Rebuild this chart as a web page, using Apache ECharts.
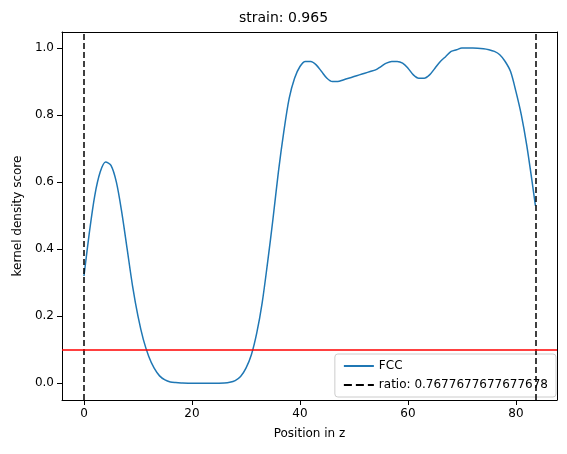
<!DOCTYPE html>
<html><head><meta charset="utf-8">
<script src="https://cdn.jsdelivr.net/npm/echarts@6/dist/echarts.min.js"></script>
<style>html,body{margin:0;padding:0;background:#fff}#c{width:567px;height:454px}</style>
</head><body><div id="c"></div>
<script>
const xs=[0,1,2,3,4,5,6,7,8,9,10,11,12,13,14,15,16,17,18,20,22,24,26,27,28,29,30,31,32,33,34,35,36,37,38,39,40,41,42,43,44,45,46,47,48,49,50,51,52,53,54,55,56,57,58,59,60,61,62,63,64,65,66,67,68,69,70,72,74,75,76,77,78,79,80,81,82,83,83.6];
const ys=[.32,.45,.56,.63,.66,.65,.60,.51,.40,.29,.20,.13,.08,.045,.022,.01,.004,.002,.001,0,0,0,.001,.003,.008,.02,.045,.085,.15,.24,.36,.49,.63,.75,.85,.91,.945,.96,.96,.95,.93,.91,.90,.90,.905,.91,.915,.92,.925,.93,.935,.945,.955,.96,.96,.955,.94,.92,.91,.91,.92,.94,.96,.975,.99,.995,1.0,1.0,.998,.995,.99,.98,.96,.93,.87,.80,.71,.60,.53];
const vlines=[0,83.6];
const threshold=0.1;
const xTicks=[0,20,40,60,80];
const yTicks=[0,0.2,0.4,0.6,0.8,1.0];
const ratioLabel='ratio: 0.7677677677677678';
const font='DejaVu Sans';
const ch=echarts.init(document.getElementById('c'));
const box={show:true,onZero:false,lineStyle:{color:'#000',width:1}};
ch.setOption({
 animation:false,
 textStyle:{fontFamily:font},
 title:{text:'strain: 0.965',left:'center',top:6,textStyle:{fontFamily:font,fontSize:14,fontWeight:'normal',color:'#000'}},
 grid:{left:62,right:10,top:32,bottom:54},
 xAxis:[{type:'value',min:-4.07,max:87.6,name:'Position in z',nameLocation:'middle',nameGap:28,nameTextStyle:{fontSize:12,color:'#000'},
  splitLine:{show:false},axisLine:box,
  axisTick:{show:true,customValues:xTicks,lineStyle:{color:'#000'}},
  axisLabel:{customValues:xTicks,color:'#000',fontSize:12,formatter:v=>String(v)}},
  {type:'value',position:'top',min:-4.07,max:87.6,axisLine:box,axisTick:{show:false},axisLabel:{show:false},splitLine:{show:false}}],
 yAxis:[{type:'value',min:-0.05,max:1.048,name:'kernel density score',nameLocation:'middle',nameGap:38,nameTextStyle:{fontSize:12,color:'#000'},
  splitLine:{show:false},axisLine:box,
  axisTick:{show:true,customValues:yTicks,lineStyle:{color:'#000'}},
  axisLabel:{customValues:yTicks,color:'#000',fontSize:12,formatter:v=>v.toFixed(1)}},
  {type:'value',position:'right',min:-0.05,max:1.048,axisLine:box,axisTick:{show:false},axisLabel:{show:false},splitLine:{show:false}}],
 legend:{orient:'vertical',right:11,bottom:57,backgroundColor:'#fff',borderColor:'#ccc',borderWidth:1,borderRadius:3,padding:[6,8],itemGap:7,itemWidth:30,itemHeight:10,
  itemStyle:{opacity:0},
  textStyle:{fontSize:12,color:'#000',fontFamily:font},data:['FCC',ratioLabel]},
 series:[
  {name:'FCC',type:'line',data:xs.map((x,i)=>[x,ys[i]]),smooth:0.3,symbol:'none',lineStyle:{color:'#1f77b4',width:1.5},itemStyle:{color:'#1f77b4'},z:3},
  {name:ratioLabel,type:'line',data:[],symbol:'none',lineStyle:{color:'#000',type:'dashed',width:1.5},itemStyle:{color:'#000'},
   markLine:{silent:true,symbol:'none',label:{show:false},lineStyle:{color:'#000',type:[6,3],width:1.5},data:vlines.map(v=>({xAxis:v}))}},
  {name:'thr',type:'line',data:[],symbol:'none',
   markLine:{silent:true,symbol:'none',label:{show:false},lineStyle:{color:'#ff0000',type:'solid',width:1.5},data:[{yAxis:threshold}]}}
 ]
});
</script></body></html>
